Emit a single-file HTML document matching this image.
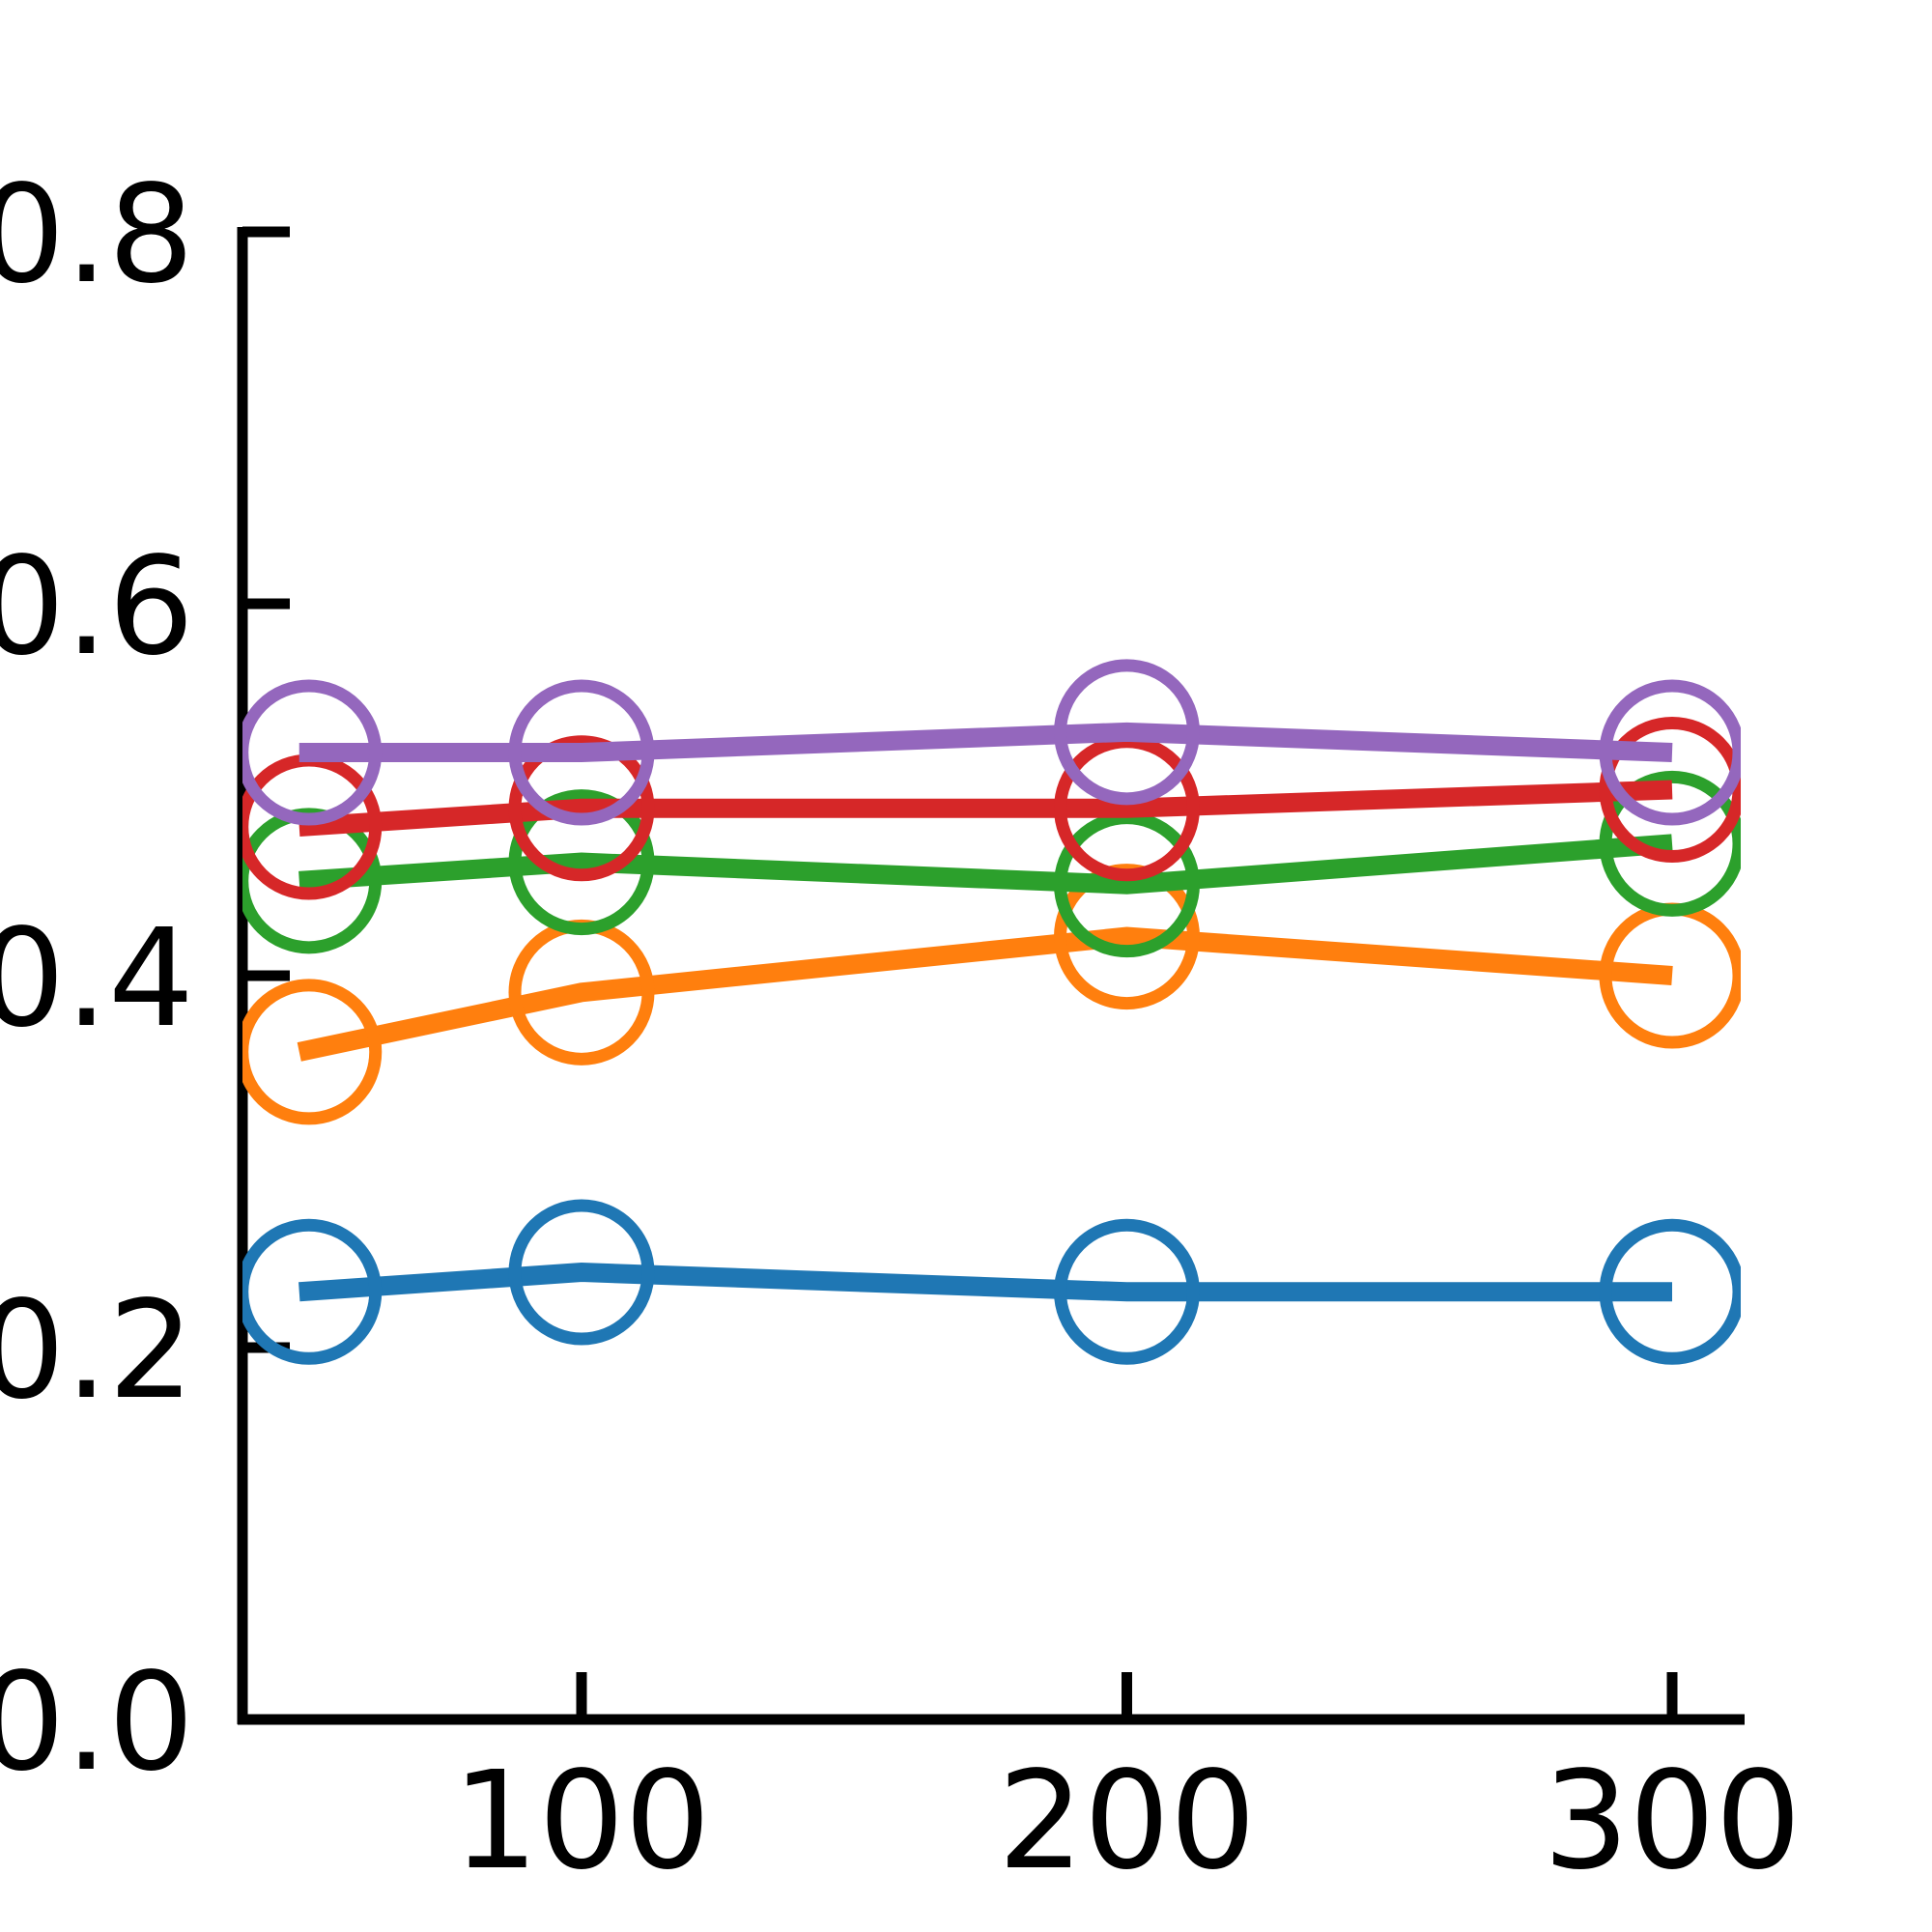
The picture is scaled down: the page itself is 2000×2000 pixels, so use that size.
<!DOCTYPE html>
<html><head><meta charset="utf-8"><style>
html,body{margin:0;padding:0;background:#fff;}
svg{display:block;}
text{font-family:"DejaVu Sans","Liberation Sans",sans-serif;font-size:140px;fill:#000;}
</style></head><body>
<svg id="chart" width="2000" height="2000" viewBox="0 0 2000 2000" xmlns="http://www.w3.org/2000/svg">
<defs><clipPath id="clip"><rect x="251" y="100" width="1551" height="1680"/></clipPath></defs>
<g id="axes"></g>
<g id="plot" clip-path="url(#clip)"></g>
</svg>
<script>
const xValues = [50, 100, 200, 300];
const seriesBlue = [0.230, 0.2405, 0.230, 0.230];
const seriesOrange = [0.359, 0.391, 0.421, 0.400];
const seriesGreen = [0.451, 0.461, 0.449, 0.471];
const seriesRed = [0.480, 0.490, 0.490, 0.500];
const seriesPurple = [0.520, 0.520, 0.531, 0.520];
const yTicks = [0.0, 0.2, 0.4, 0.6, 0.8];
const yTickLabels = ["0.0", "0.2", "0.4", "0.6", "0.8"];
const xTicks = [100, 200, 300];
const xTickLabels = ["100", "200", "300"];

const NS = "http://www.w3.org/2000/svg";
function xs(v){ return 602 + (v - 100) * 5.645; }
function ys(v){ return 1780 - v * 1925; }
function mk(tag, attrs, parent){
  const e = document.createElementNS(NS, tag);
  for (const k in attrs) e.setAttribute(k, attrs[k]);
  parent.appendChild(e); return e;
}
const axes = document.getElementById('axes');
const plot = document.getElementById('plot');

const yAxis = mk('line', {x1:251, y1:ys(0.8)-5, x2:251, y2:1785, stroke:'#000', 'stroke-width':11}, axes);


const xAxis = mk('line', {x1:246, y1:1780, x2:1806, y2:1780, stroke:'#000', 'stroke-width':11}, axes);



yTicks.forEach((t, i) => {
  const tk = mk('line', {x1:251, y1:ys(t), x2:300, y2:ys(t), stroke:'#000', 'stroke-width':11}, axes);
  
  
  const lb = mk('text', {x:201, y:ys(t)+51, 'text-anchor':'end'}, axes);
  lb.textContent = yTickLabels[i];
  
  
});
xTicks.forEach((t, i) => {
  const tk = mk('line', {x1:xs(t), y1:1780, x2:xs(t), y2:1731, stroke:'#000', 'stroke-width':11}, axes);
  
  
  const lb = mk('text', {x:xs(t), y:1933, 'text-anchor':'middle'}, axes);
  lb.textContent = xTickLabels[i];
  
  
});

const series = [
  ['blue', seriesBlue, '#1f77b4'],
  ['orange', seriesOrange, '#ff7f0e'],
  ['green', seriesGreen, '#2ca02c'],
  ['red', seriesRed, '#d62728'],
  ['purple', seriesPurple, '#9467bd']
];
series.forEach(([name, vals, color]) => {
  const g = mk('g', {}, plot);
  
  
  const pts = vals.map((v, i) => (xs(xValues[i]) - (i === 0 ? 10 : 0)) + ',' + ys(v)).join(' ');
  const pl = mk('polyline', {points:pts, fill:'none', stroke:color, 'stroke-width':20}, g);
  
  
  vals.forEach((v, i) => {
    const c = mk('circle', {cx:xs(xValues[i]), cy:ys(v), r:69, fill:'none', stroke:color, 'stroke-width':13}, g);
    
    
  });
});
</script>
</body></html>
